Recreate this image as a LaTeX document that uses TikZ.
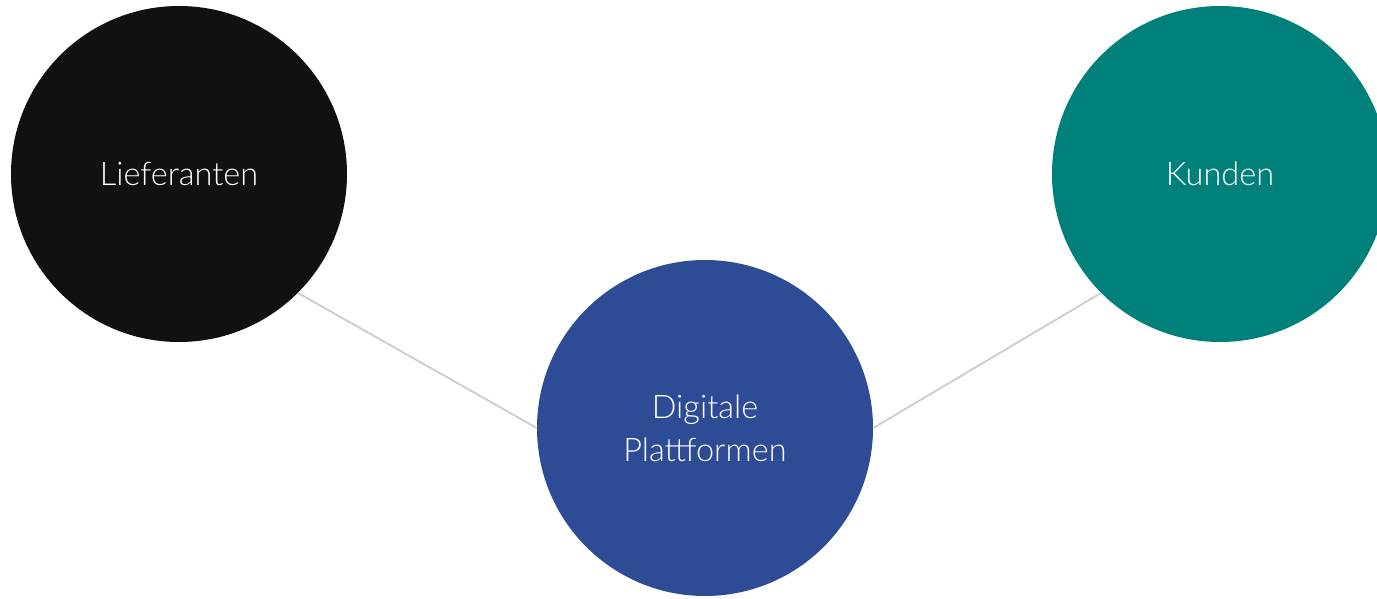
\documentclass[tikz,border=0pt]{standalone}
\usepackage{fontspec}
\setmainfont{Lato}[UprightFont=* Light]
\definecolor{cblack}{HTML}{111111}
\definecolor{cteal}{HTML}{00807A}
\definecolor{cblue}{HTML}{2E4C96}
\definecolor{cline}{HTML}{CCCCCC}
\tikzset{
  bubble/.style={circle, minimum size=336pt, inner sep=0pt, text=white, font=\fontsize{32.5}{43}\selectfont, align=center},
  link/.style={draw=cline, line width=1.8pt}
}
\begin{document}
\begin{tikzpicture}[x=1pt,y=1pt]
\useasboundingbox (0,0) rectangle (1377,598);
\clip (0,0) rectangle (1377,598);
\node[bubble, fill=cblack] (lief) at (179,424) {Lieferanten};
\node[bubble, fill=cteal] (kund) at (1220,424) {Kunden};
\node[bubble, fill=cblue] (plat) at (705,170) {Digitale\\Plattformen};
\draw[link] (lief.south east) -- (plat.west);
\draw[link] (kund.south west) -- (plat.east);
\end{tikzpicture}
\end{document}
